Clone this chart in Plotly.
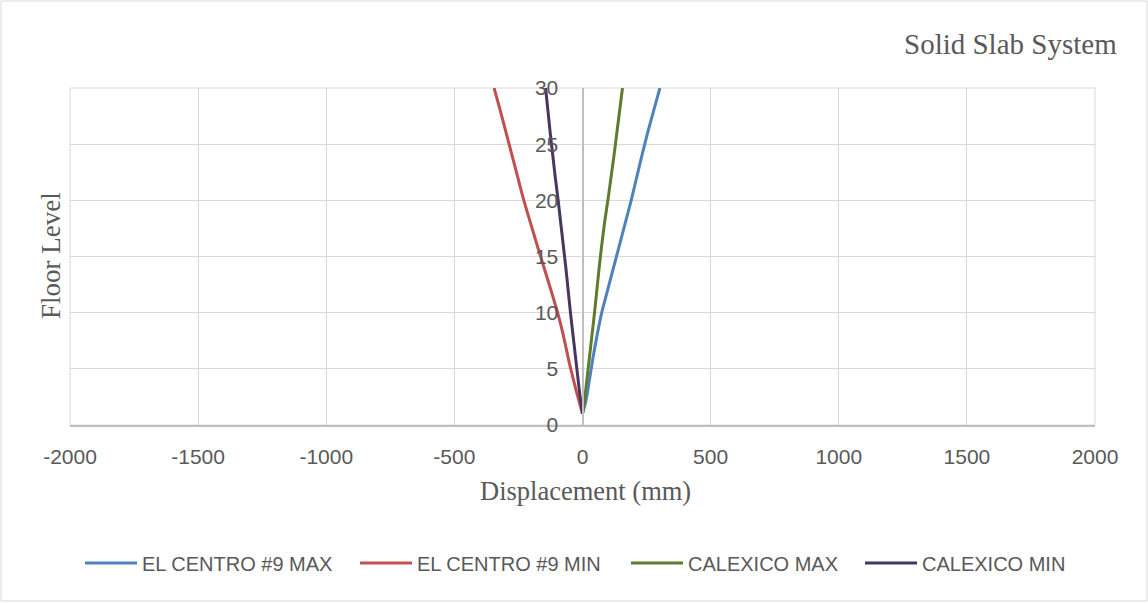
import plotly.graph_objects as go

floors = [1, 2, 3, 4, 5, 6, 8, 10, 12, 14, 16, 18, 20, 22, 24, 26, 28, 30]
el_centro_max = [0, 12, 20, 27, 34, 41, 57, 75, 98, 121, 144, 167, 190, 211, 232, 254, 278, 302]
el_centro_min = [0, -12, -24, -35, -46, -56, -75, -97, -123, -150, -177, -203, -229, -252, -275, -298, -321, -345]
calexico_max = [0, 7, 12, 17, 22, 27, 37, 47, 56, 65, 75, 86, 99, 111, 123, 134, 145, 156]
calexico_min = [0, -6, -12, -17, -22, -27, -37, -47, -56, -65, -75, -85, -95, -106, -116, -126, -135, -144]

series = [
    ("EL CENTRO #9 MAX", el_centro_max, "#4F81BD", "legend"),
    ("EL CENTRO #9 MIN", el_centro_min, "#C0504D", "legend2"),
    ("CALEXICO MAX", calexico_max, "#5E7B2E", "legend3"),
    ("CALEXICO MIN", calexico_min, "#47365F", "legend4"),
]

x_ticks = [-2000, -1500, -1000, -500, 0, 500, 1000, 1500, 2000]
y_ticks = [0, 5, 10, 15, 20, 25, 30]

fig = go.Figure()
for name, vals, col, lg in series:
    fig.add_trace(go.Scatter(x=vals, y=floors, name=name, mode="lines", legend=lg,
                             line=dict(color=col, width=3, shape="spline", smoothing=0.6)))

grey = "#595959"
W, H = 1148, 603
L, R, T, B = 70, 53, 88, 178
pw, ph = W - L - R, H - T - B

def px(x):
    return (x - L) / pw

def py(y):
    return (H - B - y) / ph

def leg(xpix):
    return dict(orientation="h", x=px(xpix), xanchor="left", y=py(563), yanchor="middle",
                font=dict(family="Liberation Sans", size=20, color=grey),
                itemwidth=52, bgcolor="rgba(0,0,0,0)")

fig.update_layout(
    width=W, height=H,
    margin=dict(l=L, r=R, t=T, b=B),
    paper_bgcolor="white", plot_bgcolor="white",
    showlegend=True,
    legend=leg(80), legend2=leg(355), legend3=leg(626), legend4=leg(860),
    xaxis=dict(range=[-2000, 2000], tickvals=x_ticks, ticktext=[str(v) for v in x_ticks],
               showgrid=True, gridcolor="#D9D9D9", gridwidth=1, zeroline=False,
               showline=True, linecolor="#BFBFBF", linewidth=2,
               ticks="outside", ticklen=12, tickcolor="rgba(0,0,0,0)",
               tickfont=dict(family="Liberation Sans", size=21, color=grey)),
    yaxis=dict(range=[0, 30], tickvals=y_ticks, ticktext=[str(v) for v in y_ticks],
               anchor="free", position=0.5,
               showgrid=True, gridcolor="#D9D9D9", gridwidth=1, zeroline=False,
               showline=True, linecolor="#BFBFBF", linewidth=2,
               ticks="outside", ticklen=19, tickcolor="rgba(0,0,0,0)",
               tickfont=dict(family="Liberation Sans", size=21, color=grey)),
    annotations=[
        dict(text="Solid Slab System", xref="paper", yref="paper", x=px(1119), y=py(44),
             xanchor="right", yanchor="middle", showarrow=False,
             font=dict(family="Liberation Serif", size=29, color=grey)),
        dict(text="Floor Level", xref="paper", yref="paper", x=px(51), y=py(256),
             xanchor="center", yanchor="middle", showarrow=False, textangle=-90,
             font=dict(family="Liberation Serif", size=27, color=grey)),
        dict(text="Displacement (mm)", xref="paper", yref="paper", x=px(585), y=py(491),
             xanchor="center", yanchor="middle", showarrow=False,
             font=dict(family="Liberation Serif", size=26.5, color=grey)),
    ],
    shapes=[
        dict(type="rect", xref="paper", yref="paper", x0=px(1), x1=px(1147), y0=py(601), y1=py(1),
             line=dict(color="#D9D9D9", width=1), fillcolor="rgba(0,0,0,0)", layer="below"),
        dict(type="rect", xref="paper", yref="paper", x0=0, x1=1, y0=0, y1=1,
             line=dict(color="#D9D9D9", width=1), fillcolor="rgba(0,0,0,0)", layer="below"),
    ],
)

fig.write_html("out.html")
